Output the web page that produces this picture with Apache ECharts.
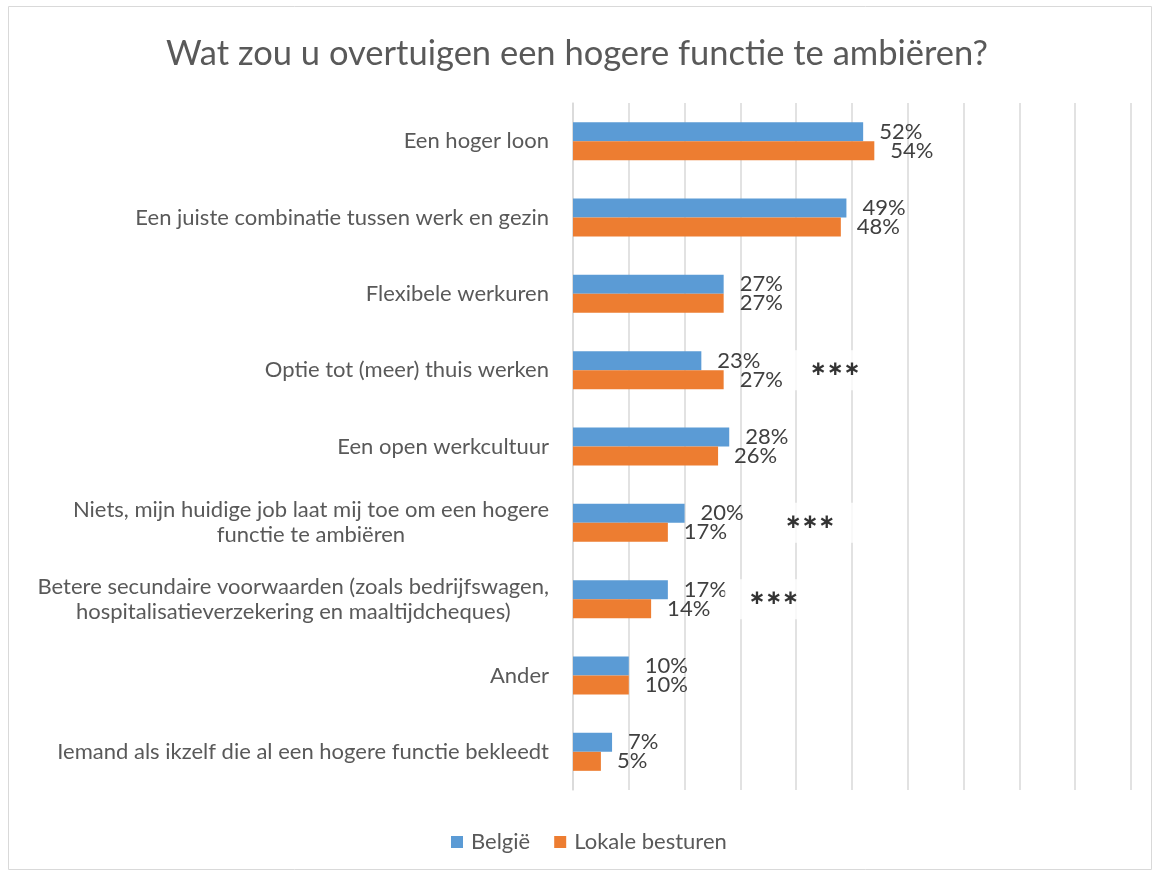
<!DOCTYPE html>
<html>
<head>
<meta charset="utf-8">
<script src="https://cdn.jsdelivr.net/npm/echarts@6/dist/echarts.min.js"></script>
<style>
  html, body { margin: 0; padding: 0; background: #fff; }
  #chart { width: 1154px; height: 872px; }
</style>
</head>
<body>
<div id="chart"></div>
<script>
// categorieën (van boven naar onder)
var categories = [
    'Een hoger loon',
    'Een juiste combinatie tussen werk en gezin',
    'Flexibele werkuren',
    'Optie tot (meer) thuis werken',
    'Een open werkcultuur',
    'Niets, mijn huidige job laat mij toe om een hogere\nfunctie te ambiëren',
    'Betere secundaire voorwaarden (zoals bedrijfswagen,\nhospitalisatieverzekering en maaltijdcheques)',
    'Ander',
    'Iemand als ikzelf die al een hogere functie bekleedt'
];
var belgie = [52, 49, 27, 23, 28, 20, 17, 10, 7];
var lokaleBesturen = [54, 48, 27, 27, 26, 17, 14, 10, 5];

// significantie-sterretjes: rij + plaats op de as (in %)
var sigRows = [3, 5, 6];
var sigAt = [47, 42.5, 36];

var FONT = 'Lato';
var chart = echarts.init(document.getElementById('chart'));

var sigData = sigRows.map(function (r, i) {
    return [sigAt[i], categories[r]];
});

// label rechts van elke balk
function barLabel() {
    return {
        show: true,
        position: 'right',
        distance: 16,
        formatter: '{c}%',
        fontFamily: FONT,
        fontSize: 22,
        color: '#404040'
    };
}

option = {
    textStyle: { fontFamily: FONT },
    title: {
        text: 'Wat zou u overtuigen een hogere functie te ambiëren?',
        left: 'center',
        top: 31,
        textStyle: { fontFamily: FONT, fontSize: 34.5, fontWeight: 'normal', color: '#595959' }
    },
    graphic: [{
        type: 'rect',
        shape: { x: 8.5, y: 6.5, width: 1143, height: 863 },
        style: { fill: 'none', stroke: '#d9d9d9', lineWidth: 1 },
        silent: true
    }],
    color: ['#5B9BD5', '#ED7D31'],
    legend: {
        data: ['België', 'Lokale besturen'],
        top: 826,
        left: 446,
        icon: 'rect',
        itemWidth: 12,
        itemHeight: 12,
        itemGap: 24,
        textStyle: { fontFamily: FONT, fontSize: 22, color: '#595959', padding: [0, 0, 0, 3] }
    },
    grid: {
        left: 573,
        right: 23,
        top: 103,
        bottom: 82
    },
    xAxis: {
        type: 'value',
        min: 0,
        max: 100,
        interval: 10,
        axisLabel: { show: false },
        axisTick: { show: false },
        axisLine: { show: false },
        splitLine: { lineStyle: { color: '#d9d9d9', width: 1.5 } }
    },
    yAxis: {
        type: 'category',
        inverse: true,
        data: categories,
        axisTick: { show: false },
        axisLine: { lineStyle: { color: '#d9d9d9', width: 1.5 } },
        axisLabel: {
            margin: 24,
            formatter: function (v) {
                return v.split('\n').map(function (l) { return '{c|' + l + '}'; }).join('\n');
            },
            rich: {
                c: { fontFamily: FONT, fontSize: 22, color: '#595959', align: 'center', lineHeight: 25 }
            }
        }
    },
    series: [
        {
            name: 'België',
            type: 'bar',
            barWidth: 19,
            barGap: '0%',
            data: belgie,
            label: barLabel()
        },
        {
            name: 'Lokale besturen',
            type: 'bar',
            barWidth: 19,
            barGap: '0%',
            data: lokaleBesturen,
            label: barLabel()
        },
        {
            name: 'sig',
            type: 'scatter',
            symbolSize: 1,
            itemStyle: { color: 'rgba(0,0,0,0)' },
            data: sigData,
            z: 5,
            label: {
                show: true,
                position: 'inside',
                formatter: '∗∗∗',
                fontFamily: 'DejaVu Sans',
                fontSize: 20,
                fontWeight: 'bold',
                color: '#000',
                backgroundColor: '#fff',
                padding: [10, 24]
            }
        }
    ]
};

chart.setOption(option);
</script>
</body>
</html>
